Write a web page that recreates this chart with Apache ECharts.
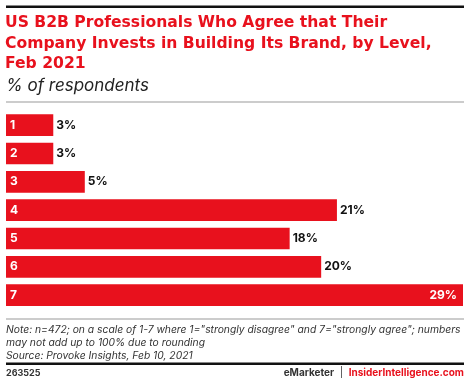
<!DOCTYPE html>
<html>
<head>
<meta charset="utf-8">
<script src="https://cdn.jsdelivr.net/npm/echarts@6/dist/echarts.min.js"></script>
<style>html,body{margin:0;padding:0;background:#fff}#c{width:470px;height:383px}</style>
</head>
<body>
<div id="c"></div>
<script>
var categories = ['1', '2', '3', '4', '5', '6', '7'];
var values = [3, 3, 5, 21, 18, 20, 29];
var titleText = 'US B2B Professionals Who Agree that Their\nCompany Invests in Building Its Brand, by Level,\nFeb 2021';
var subtitleText = '% of respondents';
var noteText = 'Note: n=472; on a scale of 1-7 where 1="strongly disagree" and 7="strongly agree"; numbers\nmay not add up to 100% due to rounding\nSource: Provoke Insights, Feb 10, 2021';
var chartId = '263525';

var RED = '#e8111d';
var chart = echarts.init(document.getElementById('c'), null, {renderer: 'canvas'});
var lastIdx = values.length - 1;
chart.setOption({
  animation: false,
  backgroundColor: '#fff',
  title: [
    {text: titleText, left: 5, top: 12.75, padding: 0, textStyle: {fontFamily: 'DejaVu Sans', fontWeight: 'bold', fontSize: 15.6, color: RED, lineHeight: 20.5}},
    {text: subtitleText, left: 6, top: 77, padding: 0, textStyle: {fontFamily: 'Inter', fontStyle: 'italic', fontWeight: 'normal', fontSize: 17, color: '#222'}},
    {text: noteText, left: 6, top: 323, padding: 0, textStyle: {fontFamily: 'Inter', fontStyle: 'italic', fontWeight: 'normal', fontSize: 10.3, color: '#333', lineHeight: 13}},
    {text: chartId, left: 6, top: 369, padding: 0, textStyle: {fontFamily: 'Inter', fontWeight: 'bold', fontSize: 9, color: '#333'}},
    {text: '{a|eMarketer}{b|  |  }{c|InsiderIntelligence.com}', right: 6, top: 367.5, padding: 0,
     textStyle: {rich: {
       a: {fontFamily: 'Inter', fontWeight: 'bold', fontSize: 10, color: '#333'},
       b: {fontFamily: 'Inter', fontWeight: 'normal', fontSize: 10, color: '#333'},
       c: {fontFamily: 'Inter', fontWeight: 'bold', fontSize: 10, color: RED}
     }}}
  ],
  graphic: [
    {type: 'rect', shape: {x: 6, y: 5.5, width: 458, height: 2.5}, style: {fill: '#111'}},
    {type: 'rect', shape: {x: 6, y: 101.5, width: 458, height: 1}, style: {fill: '#999'}},
    {type: 'rect', shape: {x: 6, y: 318.5, width: 458, height: 1}, style: {fill: '#999'}},
    {type: 'rect', shape: {x: 6, y: 362.5, width: 458, height: 2.5}, style: {fill: '#111'}}
  ],
  grid: {left: 6, right: 7, top: 111, bottom: 73.7, containLabel: false},
  xAxis: {type: 'value', min: 0, max: 29, show: false},
  yAxis: {
    type: 'category', data: categories, inverse: true,
    axisLine: {show: false}, axisTick: {show: false}, splitLine: {show: false},
    axisLabel: {inside: true, margin: 4, color: '#fff', fontFamily: 'Inter', fontWeight: 'bold', fontSize: 12},
    z: 10
  },
  series: [{
    type: 'bar', data: values.map(function (v, i) {
      return i === lastIdx ? {value: v, label: {position: 'insideRight', color: '#fff', offset: [-3, 0]}} : v;
    }),
    barCategoryGap: '23.5%',
    itemStyle: {color: RED},
    label: {show: true, position: 'right', distance: 3, formatter: '{c}%', color: '#111', fontFamily: 'Inter', fontWeight: 'bold', fontSize: 12}
  }]
});
</script>
</body>
</html>
